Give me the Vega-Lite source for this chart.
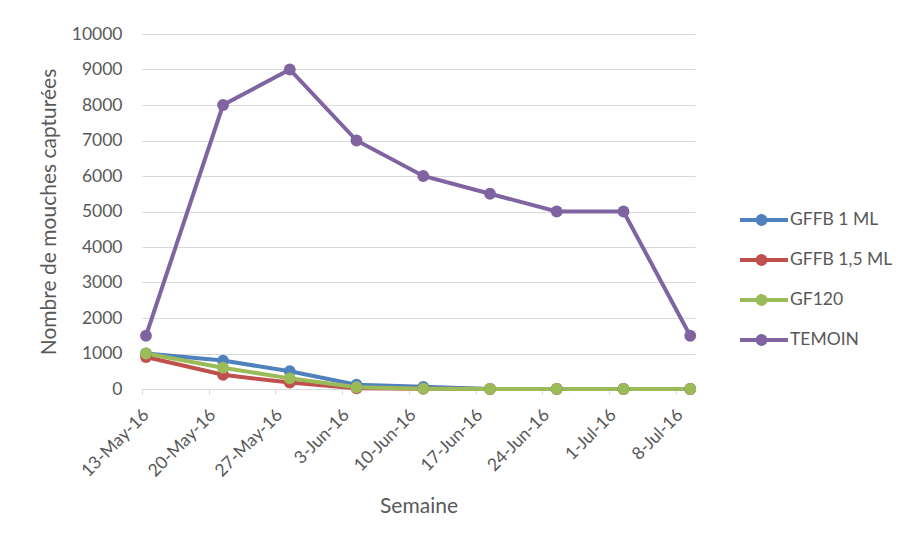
{
  "$schema": "https://vega.github.io/schema/vega-lite/v6.json",
  "width": 553,
  "height": 355,
  "autosize": {"type": "none"},
  "padding": {"left": 142, "top": 34, "right": 213, "bottom": 154},
  "background": "white",
  "config": {
    "font": "Lato",
    "view": {"stroke": null}
  },
  "data": {
    "values": [
      {"date": "2016-05-13T10:00:00Z", "serie": "GFFB 1 ML", "n": 1000},
      {"date": "2016-05-21T12:00:00Z", "serie": "GFFB 1 ML", "n": 800},
      {"date": "2016-05-28T12:00:00Z", "serie": "GFFB 1 ML", "n": 500},
      {"date": "2016-06-04T12:00:00Z", "serie": "GFFB 1 ML", "n": 120},
      {"date": "2016-06-11T12:00:00Z", "serie": "GFFB 1 ML", "n": 60},
      {"date": "2016-06-18T12:00:00Z", "serie": "GFFB 1 ML", "n": 0},
      {"date": "2016-06-25T12:00:00Z", "serie": "GFFB 1 ML", "n": 0},
      {"date": "2016-07-02T12:00:00Z", "serie": "GFFB 1 ML", "n": 0},
      {"date": "2016-07-09T12:00:00Z", "serie": "GFFB 1 ML", "n": 0},
      {"date": "2016-05-13T10:00:00Z", "serie": "GFFB 1,5 ML", "n": 900},
      {"date": "2016-05-21T12:00:00Z", "serie": "GFFB 1,5 ML", "n": 400},
      {"date": "2016-05-28T12:00:00Z", "serie": "GFFB 1,5 ML", "n": 180},
      {"date": "2016-06-04T12:00:00Z", "serie": "GFFB 1,5 ML", "n": 20},
      {"date": "2016-06-11T12:00:00Z", "serie": "GFFB 1,5 ML", "n": 5},
      {"date": "2016-06-18T12:00:00Z", "serie": "GFFB 1,5 ML", "n": 0},
      {"date": "2016-06-25T12:00:00Z", "serie": "GFFB 1,5 ML", "n": 0},
      {"date": "2016-07-02T12:00:00Z", "serie": "GFFB 1,5 ML", "n": 0},
      {"date": "2016-07-09T12:00:00Z", "serie": "GFFB 1,5 ML", "n": 0},
      {"date": "2016-05-13T10:00:00Z", "serie": "GF120", "n": 1000},
      {"date": "2016-05-21T12:00:00Z", "serie": "GF120", "n": 600},
      {"date": "2016-05-28T12:00:00Z", "serie": "GF120", "n": 300},
      {"date": "2016-06-04T12:00:00Z", "serie": "GF120", "n": 50},
      {"date": "2016-06-11T12:00:00Z", "serie": "GF120", "n": 10},
      {"date": "2016-06-18T12:00:00Z", "serie": "GF120", "n": 0},
      {"date": "2016-06-25T12:00:00Z", "serie": "GF120", "n": 0},
      {"date": "2016-07-02T12:00:00Z", "serie": "GF120", "n": 0},
      {"date": "2016-07-09T12:00:00Z", "serie": "GF120", "n": 0},
      {"date": "2016-05-13T10:00:00Z", "serie": "TEMOIN", "n": 1500},
      {"date": "2016-05-21T12:00:00Z", "serie": "TEMOIN", "n": 8000},
      {"date": "2016-05-28T12:00:00Z", "serie": "TEMOIN", "n": 9000},
      {"date": "2016-06-04T12:00:00Z", "serie": "TEMOIN", "n": 7000},
      {"date": "2016-06-11T12:00:00Z", "serie": "TEMOIN", "n": 6000},
      {"date": "2016-06-18T12:00:00Z", "serie": "TEMOIN", "n": 5500},
      {"date": "2016-06-25T12:00:00Z", "serie": "TEMOIN", "n": 5000},
      {"date": "2016-07-02T12:00:00Z", "serie": "TEMOIN", "n": 5000},
      {"date": "2016-07-09T12:00:00Z", "serie": "TEMOIN", "n": 1500}
    ]
  },
  "mark": {"type": "line", "strokeWidth": 4, "point": {"filled": true, "size": 140, "opacity": 1}},
  "encoding": {
    "x": {
      "field": "date",
      "type": "temporal",
      "scale": {"type": "utc", "domain": [{"year": 2016, "month": 5, "date": 13, "utc": true}, {"year": 2016, "month": 7, "date": 10, "utc": true}], "nice": false},
      "axis": {
        "values": [
          {"year": 2016, "month": 5, "date": 13, "utc": true},
          {"year": 2016, "month": 5, "date": 20, "utc": true},
          {"year": 2016, "month": 5, "date": 27, "utc": true},
          {"year": 2016, "month": 6, "date": 3, "utc": true},
          {"year": 2016, "month": 6, "date": 10, "utc": true},
          {"year": 2016, "month": 6, "date": 17, "utc": true},
          {"year": 2016, "month": 6, "date": 24, "utc": true},
          {"year": 2016, "month": 7, "date": 1, "utc": true},
          {"year": 2016, "month": 7, "date": 8, "utc": true}
        ],
        "format": "%-d-%b-%y",
        "labelAngle": -45,
        "labelAlign": "right",
        "labelBaseline": "middle",
        "labelFontSize": 17.5,
        "labelColor": "#595959",
        "labelPadding": 18,
        "labelOffset": 4,
        "labelOverlap": false,
        "labelFlush": false,
        "domainColor": "#D9D9D9",
        "domainWidth": 1,
        "tickColor": "#D9D9D9",
        "tickSize": 5,
        "grid": false,
        "title": "Semaine",
        "titleFontSize": 21,
        "titleFontWeight": "normal",
        "titleColor": "#595959",
        "titlePadding": 16
      }
    },
    "y": {
      "field": "n",
      "type": "quantitative",
      "scale": {"domain": [0, 10000], "nice": false},
      "axis": {
        "values": [0, 1000, 2000, 3000, 4000, 5000, 6000, 7000, 8000, 9000, 10000],
        "format": "d",
        "grid": true,
        "gridColor": "#D9D9D9",
        "domain": false,
        "ticks": false,
        "labelPadding": 20,
        "labelFontSize": 17.5,
        "labelColor": "#595959",
        "title": "Nombre de mouches capturées",
        "titleFontSize": 21,
        "titleFontWeight": "normal",
        "titleColor": "#595959",
        "titlePadding": 12
      }
    },
    "color": {
      "field": "serie",
      "type": "nominal",
      "scale": {"domain": ["GFFB 1 ML", "GFFB 1,5 ML", "GF120", "TEMOIN"], "range": ["#4F81BD", "#C0504D", "#9BBB59", "#8064A2"]},
      "legend": {
        "orient": "none",
        "legendX": 598,
        "legendY": 174,
        "title": null,
        "padding": 0,
        "symbolType": "M-1,-0.17H3V0.17H-1Z M1.29,0 A0.49,0.49 0 1,1 0.31,0 A0.49,0.49 0 1,1 1.29,0Z",
        "symbolSize": 576,
        "symbolStrokeWidth": 0,
        "labelOffset": 26,
        "labelFontSize": 17.5,
        "labelColor": "#595959",
        "rowPadding": 19,
        "encode": {
          "symbols": {
            "update": {
              "fill": {"scale": "color", "field": "value"},
              "stroke": {"value": "transparent"},
              "strokeWidth": {"value": 0},
              "opacity": {"value": 1}
            }
          }
        }
      }
    }
  }
}
